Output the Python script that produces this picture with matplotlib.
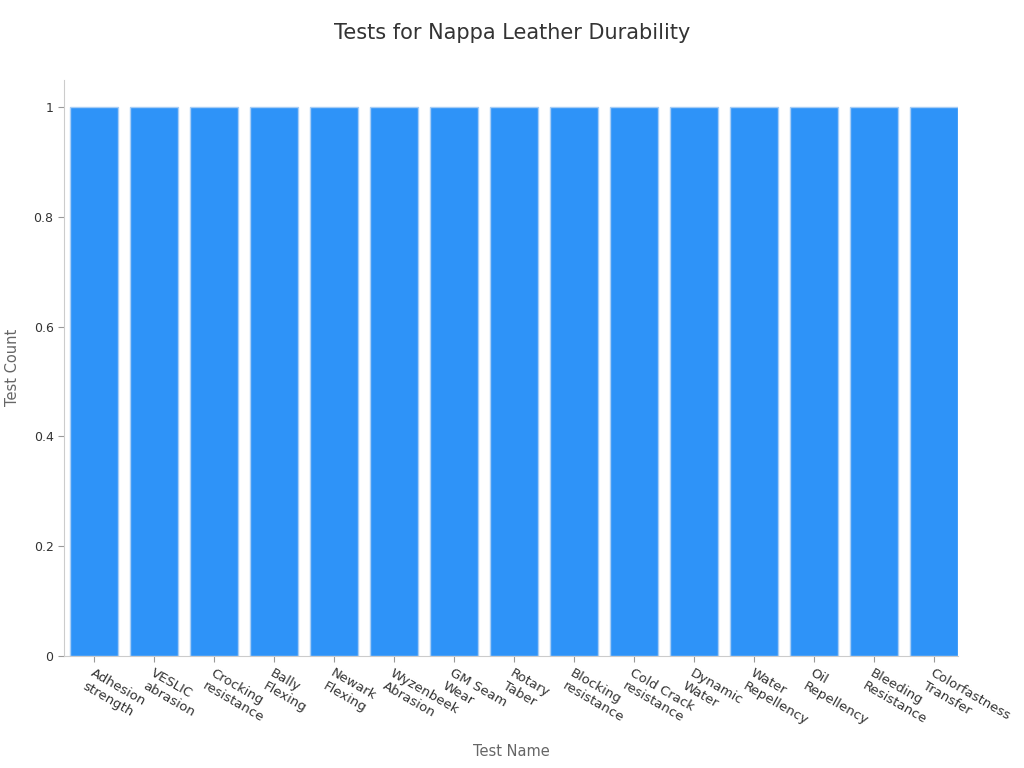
import matplotlib
matplotlib.use('Agg')
import matplotlib.pyplot as plt
from matplotlib.ticker import FuncFormatter

# tests and their counts
tests = ['Adhesion\nstrength', 'VESLIC\nabrasion', 'Crocking\nresistance', 'Bally\nFlexing',
         'Newark\nFlexing', 'Wyzenbeek\nAbrasion', 'GM Seam\nWear', 'Rotary\nTaber',
         'Blocking\nresistance', 'Cold Crack\nresistance', 'Dynamic\nWater', 'Water\nRepellency',
         'Oil\nRepellency', 'Bleeding\nResistance', 'Colorfastness\nTransfer']
counts = [1, 1, 1, 1, 1, 1, 1, 1, 1, 1, 1, 1, 1, 1, 1]

fig = plt.figure(figsize=(10.24, 7.68), dpi=100)
ax = fig.add_axes([0.0625, 0.146, 0.873, 0.75])

x = range(len(tests))
ax.bar(x, counts, width=0.8, color='#2e93f8', edgecolor='#a8cdf5', linewidth=1)

ax.set_xlim(-0.508, len(tests) - 0.608)
ax.set_ylim(0, 1.05)
ax.set_yticks([0, 0.2, 0.4, 0.6, 0.8, 1.0])
ax.yaxis.set_major_formatter(FuncFormatter(lambda v, p: f'{v:g}'))
ax.set_xticks(list(x))
ax.set_xticklabels(tests, rotation=-30, ha='left', rotation_mode='anchor', fontsize=9.5, color='#333333')
ax.tick_params(axis='y', labelsize=9, colors='#333333')
ax.tick_params(color='#999999', length=4)

for s in ['top', 'right']:
    ax.spines[s].set_visible(False)
for s in ['left', 'bottom']:
    ax.spines[s].set_color('#cccccc')

ax.set_xlabel('Test Name', fontsize=10.5, color='#666666')
ax.xaxis.set_label_coords(0.5, -0.153)
ax.set_ylabel('Test Count', fontsize=10.5, color='#666666')
ax.yaxis.set_label_coords(-0.049, 0.5)
fig.suptitle('Tests for Nappa Leather Durability', fontsize=15, color='#333333', y=0.97)

plt.savefig('out.png', dpi=100)
